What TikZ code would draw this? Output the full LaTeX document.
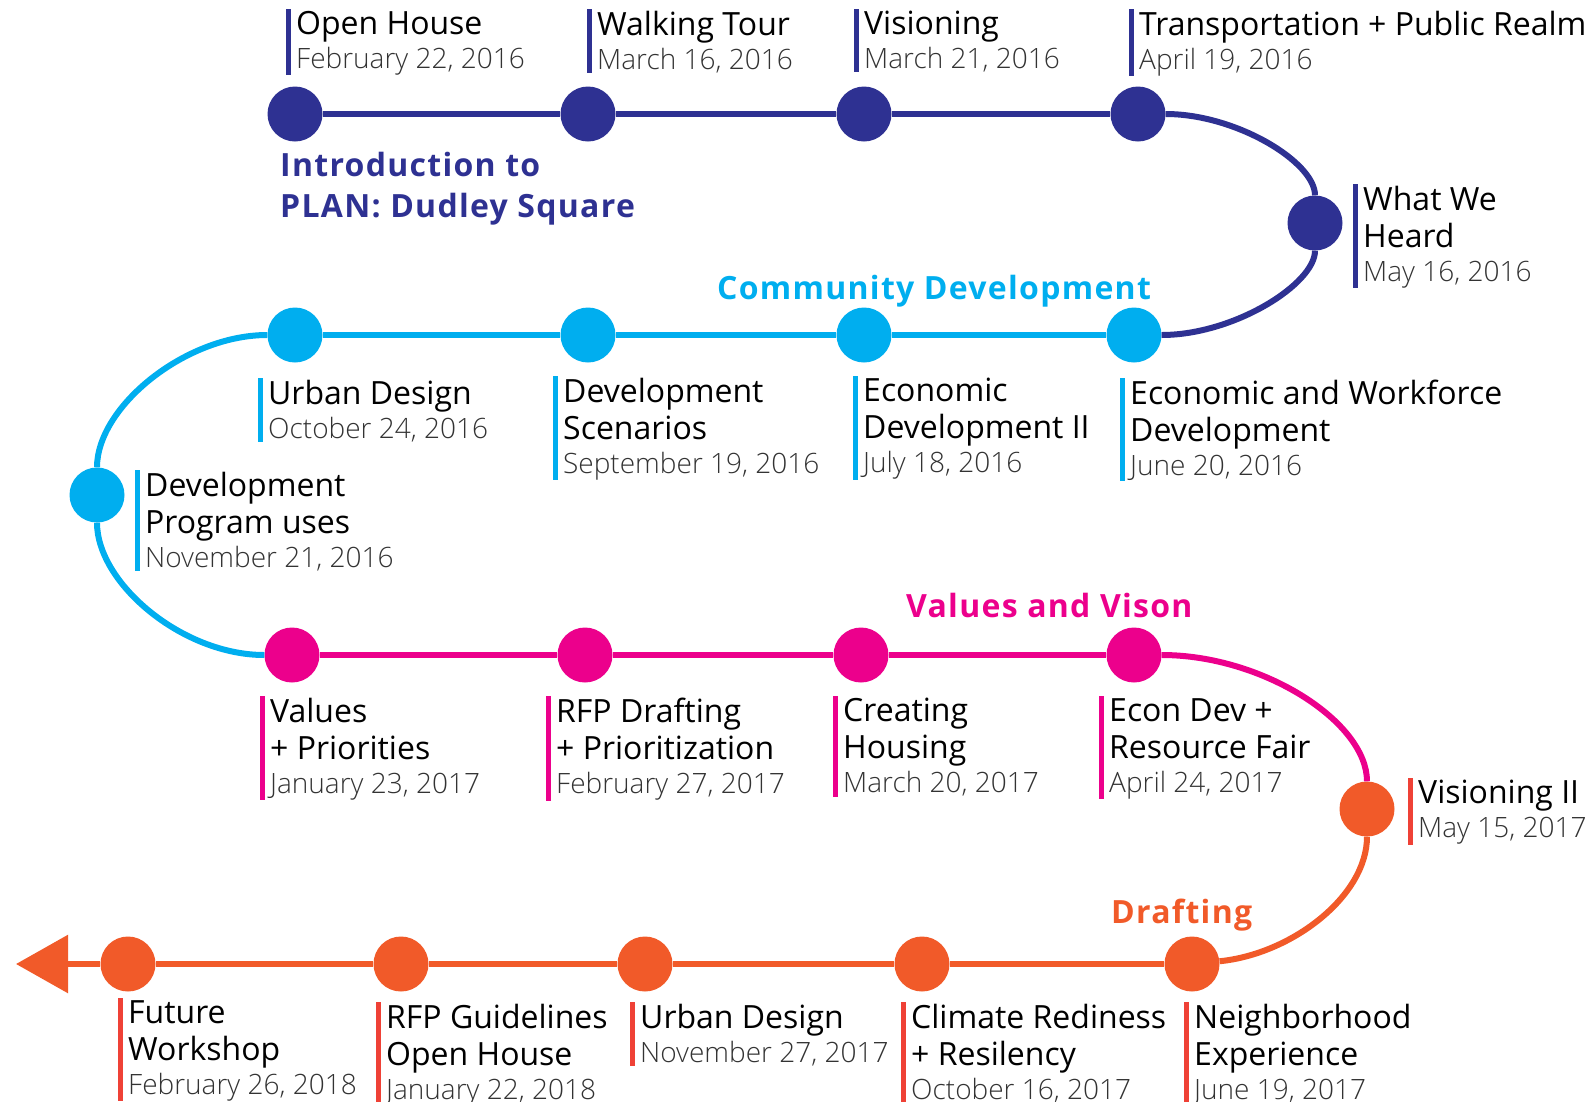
\documentclass[tikz,border=0pt]{standalone}
\usepackage{fontspec}
\setmainfont{Open Sans}
\newfontfamily\datefont{Open Sans Light}
\newfontfamily\phasefont[LetterSpace=4]{Open Sans}
\usetikzlibrary{arrows.meta}

\definecolor{navy}{HTML}{2E3192}
\definecolor{sky}{HTML}{00AEEF}
\definecolor{rose}{HTML}{EC008C}
\definecolor{flame}{HTML}{F15A29}
\definecolor{barred}{HTML}{EF4136}
\definecolor{datecol}{HTML}{333333}

\newcommand{\evdate}[1]{{\datefont\fontsize{28}{34}\selectfont\color{datecol}#1}}

\tikzset{
  dot/.style={circle, minimum size=55pt, inner sep=0pt},
  track/.style={line width=6pt},
  evtext/.style={anchor=north west, inner sep=0pt, align=left, text=black,
    font=\fontsize{32}{37}\selectfont},
  bar/.style={line width=5pt},
  phase/.style={anchor=north west, inner sep=0pt, align=left,
    font=\phasefont\fontsize{32}{41}\selectfont\bfseries},
}

\begin{document}
\begin{tikzpicture}[x=1pt, y=-1pt]
  \useasboundingbox (0,0) rectangle (1591,1101);

  % 丸
  \foreach \n/\x in {1/295, 2/588, 3/864, 4/1138}
    \node[dot, fill=navy] (a\n) at (\x,114) {};
  \node[dot, fill=navy] (h) at (1315,223) {};
  \foreach \n/\x in {1/295, 2/588, 3/864, 4/1134}
    \node[dot, fill=sky] (b\n) at (\x,335) {};
  \node[dot, fill=sky] (c) at (97,495) {};
  \foreach \n/\x in {1/292, 2/585, 3/861, 4/1134}
    \node[dot, fill=rose] (d\n) at (\x,655) {};
  \node[dot, fill=flame] (e) at (1367,809) {};
  \foreach \n/\x in {1/128, 2/401, 3/645, 4/922, 5/1192}
    \node[dot, fill=flame] (f\n) at (\x,964) {};
  \coordinate (tip) at (16,964);

  % 線
  \draw[track, navy] (a1) -- (a2) -- (a3) -- (a4);
  \draw[track, navy] (a4) .. controls +(98,0) and +(0,-61) .. (h);
  \draw[track, navy] (h) .. controls +(0,61) and +(100,0) .. (b4);
  \draw[track, sky] (b4) -- (b3) -- (b2) -- (b1);
  \draw[track, sky] (b1) .. controls +(-110,0) and +(0,-88) .. (c);
  \draw[track, sky] (c) .. controls +(0,88) and +(-110,0) .. (d1);
  \draw[track, rose] (d1) -- (d2) -- (d3) -- (d4);
  \draw[track, rose] (d4) .. controls +(129,0) and +(0,-87) .. (e);
  \draw[track, flame] (e) .. controls +(0,87) and +(100,-10) .. (f5);
  \draw[track, flame] (f5) -- (f4) -- (f3) -- (f2) -- (f1);
  \draw[track, flame, -{Triangle[length=52pt, width=57pt]}] (f1) -- (tip);

  % 見出し
  \node[phase, navy] (intro) at (280,152) {Introduction to\\PLAN: Dudley Square};
  \node[phase, sky] (comm) at (717,275) {Community Development};
  \node[phase, rose] (vals) at (906,593) {Values and Vison};
  \node[phase, flame] (draft) at (1111,899) {Drafting};

  % ラベル
  \foreach \n/\x/\y/\ttl/\dte/\col in {
      1/296/11/{Open House}/{February 22, 2016}/navy,
      2/597/11/{Walking Tour}/{March 16, 2016}/navy,
      3/864/11/{Visioning}/{March 21, 2016}/navy,
      4/1139/11/{Transportation + Public Realm}/{April 19, 2016}/navy,
      5/1363/186/{What We\\Heard}/{May 16, 2016}/navy,
      6/268/380/{Urban Design}/{October 24, 2016}/sky,
      7/563/378/{Development\\Scenarios}/{September 19, 2016}/sky,
      8/863/378/{Economic\\Development II}/{July 18, 2016}/sky,
      9/1130/380/{Economic and Workforce\\Development}/{June 20, 2016}/sky,
      10/145/472/{Development\\Program uses}/{November 21, 2016}/sky,
      11/270/698/{Values\\+ Priorities}/{January 23, 2017}/rose,
      12/556/698/{RFP Drafting\\+ Prioritization}/{February 27, 2017}/rose,
      13/843/698/{Creating\\Housing}/{March 20, 2017}/rose,
      14/1109/698/{Econ Dev +\\Resource Fair}/{April 24, 2017}/rose,
      15/1418/780/{Visioning II}/{May 15, 2017}/barred,
      16/128/1000/{Future\\Workshop}/{February 26, 2018}/barred,
      17/386/1004/{RFP Guidelines\\Open House}/{January 22, 2018}/barred,
      18/640/1004/{Urban Design}/{November 27, 2017}/barred,
      19/911/1004/{Climate Rediness\\+ Resilency}/{October 16, 2017}/barred,
      20/1194/1004/{Neighborhood\\Experience}/{June 19, 2017}/barred} {
    \node[evtext] (t\n) at (\x,\y) {\ttl\\[-3pt]\evdate{\dte}};
    \draw[bar, \col] ([xshift=-8pt, yshift=2pt]t\n.north west) -- ([xshift=-8pt]t\n.south west);
  }
\end{tikzpicture}
\end{document}
